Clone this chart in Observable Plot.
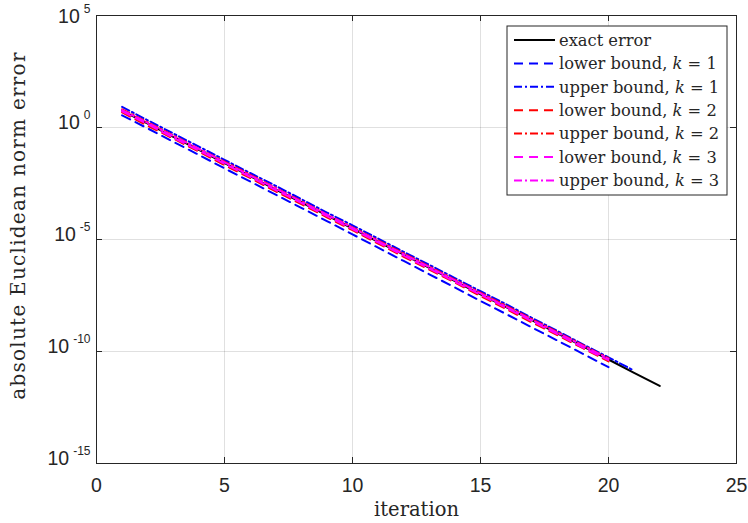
<!DOCTYPE html>
<html><head><meta charset="utf-8">
<script src="https://cdn.jsdelivr.net/npm/d3@7"></script>
<script src="https://cdn.jsdelivr.net/npm/@observablehq/plot@0.6"></script>
<style>html,body{margin:0;padding:0;background:#fff;} #chart{width:748px;height:523px;}</style>
</head><body><div id="chart"></div>
<script>
const exactError = [5.6, 1.5, 3.8e-1, 1.0e-1, 2.6e-2, 6.8e-3, 1.7e-3, 4.6e-4, 1.2e-4, 3.1e-5, 7.9e-6, 2.1e-6, 5.4e-7, 1.4e-7, 3.6e-8, 9.5e-9, 2.5e-9, 6.5e-10, 1.7e-10, 4.4e-11, 1.1e-11, 2.9e-12];
const lowerK1 = [3.5, 9.1e-1, 2.3e-1, 6.0e-2, 1.5e-2, 3.9e-3, 1.0e-3, 2.6e-4, 6.6e-5, 1.7e-5, 4.3e-6, 1.1e-6, 2.8e-7, 7.2e-8, 1.8e-8, 4.7e-9, 1.2e-9, 3.1e-10, 7.9e-11, 2.0e-11];
const upperK1 = [8.3, 2.1, 5.4e-1, 1.4e-1, 3.6e-2, 9.3e-3, 2.5e-3, 6.3e-4, 1.6e-4, 4.3e-5, 1.1e-5, 2.8e-6, 7.4e-7, 1.9e-7, 4.9e-8, 1.3e-8, 3.2e-9, 8.3e-10, 2.1e-10, 5.5e-11, 1.4e-11];
const lowerK2 = [4.7, 1.2, 3.2e-1, 8.3e-2, 2.1e-2, 5.6e-3, 1.4e-3, 3.8e-4, 9.8e-5, 2.6e-5, 6.6e-6, 1.7e-6, 4.5e-7, 1.2e-7, 3.0e-8, 7.9e-9, 2.0e-9, 5.4e-10, 1.4e-10, 3.6e-11];
const upperK2 = [6.5, 1.7, 4.4e-1, 1.1e-1, 3.0e-2, 7.8e-3, 2.0e-3, 5.2e-4, 1.3e-4, 3.5e-5, 9.1e-6, 2.4e-6, 6.2e-7, 1.6e-7, 4.2e-8, 1.1e-8, 2.8e-9, 7.4e-10, 1.9e-10, 5.0e-11];
const lowerK3 = [5.2, 1.4, 3.5e-1, 9.3e-2, 2.4e-2, 6.3e-3, 1.6e-3, 4.3e-4, 1.1e-4, 2.9e-5, 7.4e-6, 1.9e-6, 5.0e-7, 1.3e-7, 3.4e-8, 8.9e-9, 2.3e-9, 6.0e-10, 1.5e-10, 4.1e-11];
const upperK3 = [6.0, 1.6, 4.1e-1, 1.1e-1, 2.8e-2, 7.2e-3, 1.9e-3, 4.9e-4, 1.3e-4, 3.3e-5, 8.5e-6, 2.2e-6, 5.8e-7, 1.5e-7, 3.9e-8, 1.0e-8, 2.6e-9, 6.9e-10, 1.8e-10, 4.7e-11];

const seriesNames = ["exact error", "lower bound, k = 1", "upper bound, k = 1", "lower bound, k = 2", "upper bound, k = 2", "lower bound, k = 3", "upper bound, k = 3"];
const seriesValues = [exactError, lowerK1, upperK1, lowerK2, upperK2, lowerK3, upperK3];
const xTicks = [0, 5, 10, 15, 20, 25];
const yTicks = [1e-15, 1e-10, 1e-5, 1e0, 1e5];
const xLabel = "iteration";
const yLabel = "absolute Euclidean norm error";

const styles = [
  {stroke: "#000000", dash: null},
  {stroke: "#0000ff", dash: "9,6"},
  {stroke: "#0000ff", dash: "8,3,2,3"},
  {stroke: "#ff0000", dash: "9,6"},
  {stroke: "#ff0000", dash: "8,3,2,3"},
  {stroke: "#ff00ff", dash: "9,6"},
  {stroke: "#ff00ff", dash: "8,3,2,3"}
];

const W = 748, H = 523;
const mL = 96, mR = 12, mT = 15, mB = 60;
const innerW = W - mL - mR, innerH = H - mT - mB;

const lineMarks = seriesValues.map((vals, s) => {
  const rows = vals.map((v, i) => ({iter: i + 1, err: v}));
  return Plot.line(rows, {x: "iter", y: "err", stroke: styles[s].stroke, strokeWidth: 2, strokeDasharray: styles[s].dash || undefined, strokeLinejoin: "round"});
});

const serif = "'DejaVu Serif', serif";
const sans = "'Liberation Sans', Arial, sans-serif";
const inner = [5, 10, 15, 20];
const innerY = [1e-10, 1e-5, 1e0];

const plot = Plot.plot({
  width: W, height: H,
  marginLeft: mL, marginRight: mR, marginTop: mT, marginBottom: mB,
  style: {fontFamily: sans, background: "#fff", overflow: "visible"},
  x: {domain: [0, 25], ticks: xTicks},
  y: {type: "log", domain: [1e-15, 1e5], ticks: yTicks},
  marks: [
    Plot.gridX(inner, {stroke: "#000", strokeOpacity: 0.12}),
    Plot.gridY(innerY, {stroke: "#000", strokeOpacity: 0.12}),
    ...lineMarks,
    Plot.frame({stroke: "#262626", strokeWidth: 1}),
    Plot.tickX(inner, {x: d => d, insetTop: innerH - 6, stroke: "#262626"}),
    Plot.tickX(inner, {x: d => d, insetBottom: innerH - 6, stroke: "#262626"}),
    Plot.tickY(innerY, {y: d => d, insetRight: innerW - 6, stroke: "#262626"}),
    Plot.tickY(innerY, {y: d => d, insetLeft: innerW - 6, stroke: "#262626"}),
    Plot.axisX(xTicks, {tickSize: 0, tickPadding: 15, fontSize: 19.5, fill: "#262626", label: null}),
    Plot.axisY(yTicks, {tickSize: 0, tickPadding: 6, fontSize: 19.5, fill: "#262626", label: null, dy: -5, tickFormat: d => String(Math.round(Math.log10(d)))}),
    Plot.text([xLabel], {frameAnchor: "bottom", dy: 52, text: d => d, fontFamily: serif, fontSize: 19.5, fill: "#262626", textAnchor: "middle"}),
    Plot.text([yLabel], {frameAnchor: "left", dx: -78, dy: -14, rotate: -90, text: d => d, fontFamily: serif, fontSize: 20, fill: "#262626", textAnchor: "middle"})
  ]
});

document.getElementById("chart").appendChild(plot);
const svg = d3.select(plot);

// letter spacing for the y label (MATLAB's LaTeX font is wider)
svg.selectAll("text").filter(function() { return d3.select(this).text() === yLabel; })
  .attr("letter-spacing", 1.25);

// superscript exponents on y tick labels
svg.selectAll("g[aria-label='y-axis tick label'] text").each(function() {
  const t = d3.select(this);
  const e = t.text();
  t.text(null);
  if (e === "5") t.attr("dy", 6);
  t.append("tspan").text("10");
  t.append("tspan").attr("dx", 4).attr("dy", -10).attr("font-size", 12).text(e);
});

// legend
const lg = svg.append("g").attr("class", "legend").attr("text-anchor", "start");
const bx = 507, by = 26, bw = 220, bh = 169;
lg.append("rect").attr("x", bx).attr("y", by).attr("width", bw).attr("height", bh)
  .attr("fill", "#fff").attr("stroke", "#262626").attr("stroke-width", 1);
seriesNames.forEach((name, i) => {
  const cy = 40 + i * 23.4;
  const l = lg.append("line").attr("x1", 514).attr("x2", 555).attr("y1", cy).attr("y2", cy)
    .attr("stroke", styles[i].stroke).attr("stroke-width", 2);
  if (styles[i].dash) l.attr("stroke-dasharray", styles[i].dash);
  const tx = lg.append("text").attr("x", 559).attr("y", cy).attr("dy", "0.35em")
    .attr("text-anchor", "start")
    .attr("font-family", serif).attr("font-size", 16.3).attr("fill", "#262626");
  const m = name.match(/^(.*), k = (\d)$/);
  if (m) {
    tx.append("tspan").text(m[1] + ", ");
    tx.append("tspan").attr("font-style", "italic").text("k");
    tx.append("tspan").text(" = " + m[2]);
  } else {
    tx.text(name);
  }
});
</script>
</body></html>
